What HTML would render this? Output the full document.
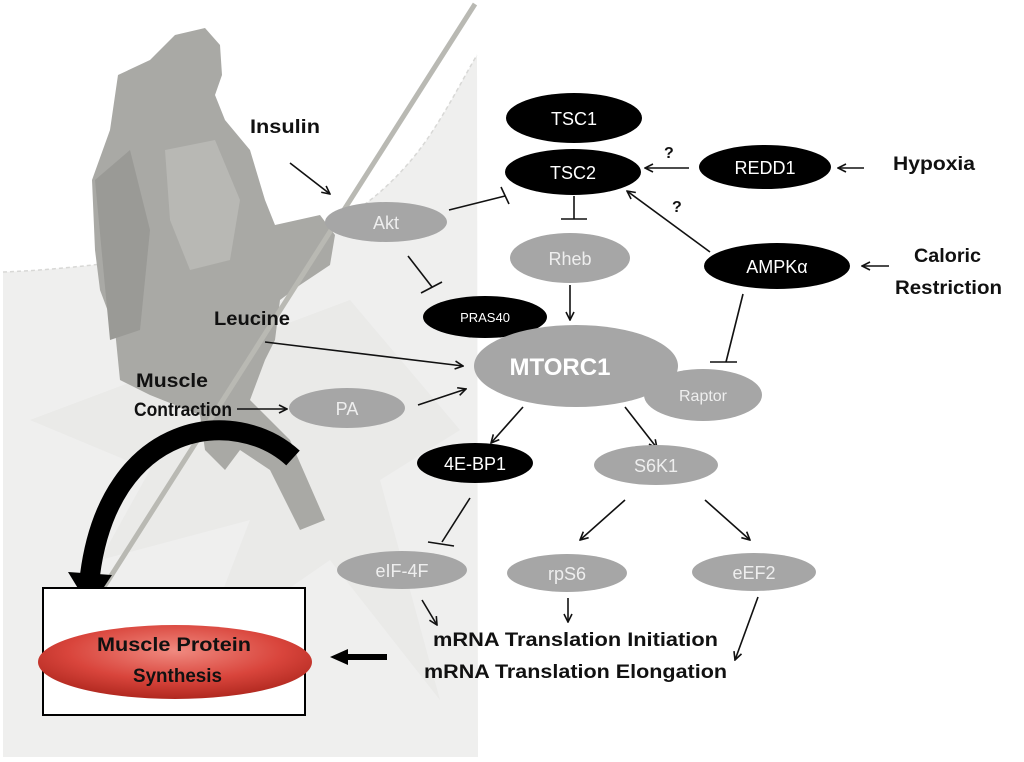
<!DOCTYPE html>
<html><head><meta charset="utf-8"><style>
html,body{margin:0;padding:0;background:#fff;}
svg{display:block;}
text{font-family:"Liberation Sans",sans-serif;}
</style></head><body>
<svg width="1024" height="762" viewBox="0 0 1024 762" xmlns="http://www.w3.org/2000/svg">
<defs>
<marker id="ah" markerWidth="10" markerHeight="10" refX="9" refY="5" orient="auto" markerUnits="userSpaceOnUse">
<path d="M1,1 L9,5 L1,9" fill="none" stroke="#111" stroke-width="1.6"/></marker>
<radialGradient id="red" cx="50%" cy="35%" r="65%">
<stop offset="0" stop-color="#f08a80"/><stop offset="0.6" stop-color="#d9453c"/><stop offset="1" stop-color="#b0281f"/></radialGradient>
</defs>
<rect width="1024" height="762" fill="#fff"/>
<path d="M3,272 C60,270 120,262 170,255 C230,246 300,240 330,225 C360,212 400,180 430,135 C450,105 465,75 477,55 L478,757 L3,757 Z" fill="#efefee"/>
<path d="M3,272 C60,270 120,262 170,255 C230,246 300,240 330,225 C360,212 400,180 430,135 C450,105 465,75 477,55" fill="none" stroke="#d8d8d6" stroke-width="1.5" stroke-dasharray="4,3"/>
<path d="M30,420 L150,470 L100,560 L250,520 L200,650 L330,560 L440,700 L380,480 L460,430 L350,300 Z" fill="#e6e6e4" opacity="0.6"/>
<path d="M155,55 L175,35 L205,28 L220,45 L222,75 L215,95 L225,120 L250,150 L265,200 L275,225 L320,215 L335,235 L330,265 L300,285 L280,300 L275,340 L265,360 L250,400 L290,440 L325,520 L300,530 L270,470 L240,450 L225,470 L205,450 L200,415 L150,395 L120,380 L115,330 L100,290 L95,250 L92,180 L110,130 L118,75 L150,60 Z" fill="#a9a9a5"/>
<path d="M95,180 L130,150 L150,230 L140,330 L110,340 Z" fill="#9a9a96"/>
<path d="M165,150 L215,140 L240,200 L230,260 L190,270 L170,220 Z" fill="#b8b8b4"/>
<line x1="475" y1="4" x2="88" y2="612" stroke="#b9b9b3" stroke-width="5"/>
<path d="M293,458 C235,405 110,420 90,575" fill="none" stroke="#000" stroke-width="20"/>
<polygon points="68,572 112,575 90,608" fill="#000"/>
<g stroke="#111" stroke-width="1.6" fill="none">
<line x1="290" y1="163" x2="330" y2="194" marker-end="url(#ah)"/>
<line x1="449" y1="210" x2="505" y2="196"/>
<line x1="501" y1="187" x2="509" y2="204"/>
<line x1="408" y1="256" x2="432" y2="287"/>
<line x1="421" y1="293" x2="442" y2="282"/>
<line x1="574" y1="196" x2="574" y2="219"/>
<line x1="561" y1="219" x2="587" y2="219"/>
<line x1="570" y1="285" x2="570" y2="320" marker-end="url(#ah)"/>
<line x1="689" y1="168" x2="645" y2="168" marker-end="url(#ah)"/>
<line x1="864" y1="168" x2="838" y2="168" marker-end="url(#ah)"/>
<line x1="889" y1="266" x2="862" y2="266" marker-end="url(#ah)"/>
<line x1="710" y1="252" x2="627" y2="191" marker-end="url(#ah)"/>
<line x1="743" y1="294" x2="726" y2="362"/>
<line x1="710" y1="362" x2="737" y2="362"/>
<line x1="265" y1="342" x2="463" y2="366" marker-end="url(#ah)"/>
<line x1="237" y1="409" x2="287" y2="409" marker-end="url(#ah)"/>
<line x1="418" y1="405" x2="466" y2="389" marker-end="url(#ah)"/>
<line x1="523" y1="407" x2="491" y2="443" marker-end="url(#ah)"/>
<line x1="625" y1="407" x2="657" y2="448" marker-end="url(#ah)"/>
<line x1="470" y1="498" x2="442" y2="542"/>
<line x1="428" y1="542" x2="454" y2="546"/>
<line x1="625" y1="500" x2="580" y2="540" marker-end="url(#ah)"/>
<line x1="705" y1="500" x2="750" y2="540" marker-end="url(#ah)"/>
<line x1="422" y1="600" x2="437" y2="625" marker-end="url(#ah)"/>
<line x1="568" y1="598" x2="568" y2="622" marker-end="url(#ah)"/>
<line x1="758" y1="597" x2="735" y2="660" marker-end="url(#ah)"/>
</g>
<g>
<ellipse cx="574" cy="118" rx="68" ry="25" fill="#000"/>
<ellipse cx="573" cy="172" rx="68" ry="23" fill="#000"/>
<ellipse cx="765" cy="167" rx="66" ry="22" fill="#000"/>
<ellipse cx="777" cy="266" rx="73" ry="23" fill="#000"/>
<ellipse cx="570" cy="258" rx="60" ry="25" fill="#a6a6a6"/>
<ellipse cx="386" cy="222" rx="61" ry="20" fill="#a6a6a6"/>
<ellipse cx="485" cy="317" rx="62" ry="21" fill="#000"/>
<ellipse cx="576" cy="366" rx="102" ry="41" fill="#a6a6a6"/>
<ellipse cx="703" cy="395" rx="59" ry="26" fill="#a6a6a6"/>
<ellipse cx="347" cy="408" rx="58" ry="20" fill="#a6a6a6"/>
<ellipse cx="475" cy="463" rx="58" ry="20" fill="#000"/>
<ellipse cx="656" cy="465" rx="62" ry="20" fill="#a6a6a6"/>
<ellipse cx="402" cy="570" rx="65" ry="19" fill="#a6a6a6"/>
<ellipse cx="567" cy="573" rx="60" ry="19" fill="#a6a6a6"/>
<ellipse cx="754" cy="572" rx="62" ry="19" fill="#a6a6a6"/>
</g>
<g font-size="18" text-anchor="middle">
<text x="574" y="125" fill="#fff">TSC1</text>
<text x="573" y="179" fill="#fff">TSC2</text>
<text x="765" y="174" fill="#fff">REDD1</text>
<text x="777" y="273" fill="#fff">AMPKα</text>
<text x="570" y="265" fill="#eee">Rheb</text>
<text x="386" y="229" fill="#eee">Akt</text>
<text x="485" y="322" fill="#fff" font-size="13">PRAS40</text>
<text x="560" y="375" fill="#fff" font-size="24" font-weight="bold">MTORC1</text>
<text x="703" y="401" fill="#eee" font-size="16">Raptor</text>
<text x="347" y="415" fill="#eee">PA</text>
<text x="475" y="470" fill="#fff">4E-BP1</text>
<text x="656" y="472" fill="#eee">S6K1</text>
<text x="402" y="577" fill="#eee">eIF-4F</text>
<text x="567" y="580" fill="#eee">rpS6</text>
<text x="754" y="579" fill="#eee">eEF2</text>
</g>
<g font-size="19" font-weight="bold" fill="#111">
<text x="250" y="133" textLength="70" lengthAdjust="spacingAndGlyphs">Insulin</text>
<text x="214" y="325" textLength="76" lengthAdjust="spacingAndGlyphs">Leucine</text>
<text x="136" y="387" textLength="72" lengthAdjust="spacingAndGlyphs">Muscle</text>
<text x="134" y="416" textLength="98" lengthAdjust="spacingAndGlyphs">Contraction</text>
<text x="893" y="170" textLength="82" lengthAdjust="spacingAndGlyphs">Hypoxia</text>
<text x="914" y="262" textLength="67" lengthAdjust="spacingAndGlyphs">Caloric</text>
<text x="895" y="294" textLength="107" lengthAdjust="spacingAndGlyphs">Restriction</text>
<text x="664" y="158" font-size="16">?</text>
<text x="672" y="212" font-size="16">?</text>
<text x="433" y="646" textLength="285" lengthAdjust="spacingAndGlyphs">mRNA Translation  Initiation</text>
<text x="424" y="678" textLength="303" lengthAdjust="spacingAndGlyphs">mRNA Translation  Elongation</text>
</g>
<rect x="43" y="588" width="262" height="127" fill="#fff" stroke="#000" stroke-width="2"/>
<ellipse cx="175" cy="662" rx="137" ry="37" fill="url(#red)"/>
<g font-size="19" font-weight="bold" fill="#111">
<text x="97" y="651" textLength="154" lengthAdjust="spacingAndGlyphs">Muscle Protein</text>
<text x="133" y="682" textLength="89" lengthAdjust="spacingAndGlyphs">Synthesis</text>
</g>
<line x1="387" y1="657" x2="345" y2="657" stroke="#000" stroke-width="6"/>
<polygon points="330,657 348,649 348,665" fill="#000"/>
</svg>
</body></html>
